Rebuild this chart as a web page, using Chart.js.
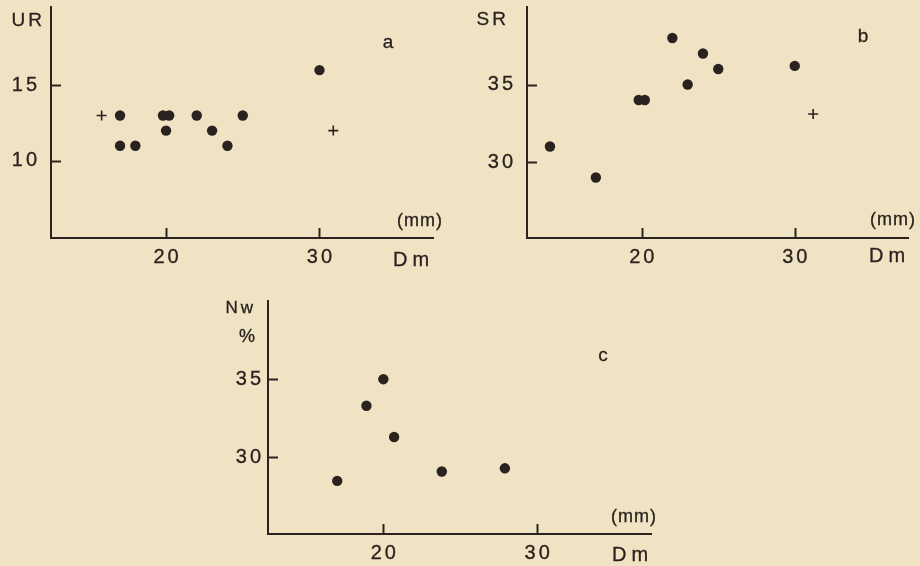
<!DOCTYPE html>
<html>
<head>
<meta charset="utf-8">
<script src="https://cdn.jsdelivr.net/npm/chart.js@4.4.1/dist/chart.umd.min.js"></script>
<style>
  html, body { margin: 0; padding: 0; background: #f0e3c4; }
  #page { position: relative; width: 920px; height: 566px; background: #f0e3c4; overflow: hidden; }
  #page canvas { position: absolute; left: 0; top: 0; }
</style>
</head>
<body>
<div id="page">
  <canvas id="chart-a" width="920" height="566"></canvas>
  <canvas id="chart-b" width="920" height="566"></canvas>
  <canvas id="chart-c" width="920" height="566"></canvas>
</div>
<script>
// Panel a: UR against mean diameter Dm
const urDotsDm  = [17, 17, 18, 19.8, 20.2, 20, 22, 23, 24, 25, 30];
const urDotsVal = [13, 11, 11, 13, 13, 12, 13, 12, 11, 13, 16];
const urCrossDm  = [15.8, 30.9];
const urCrossVal = [13, 12];

// Panel b: SR against Dm
const srDotsDm  = [14, 17, 19.8, 20.2, 22, 23, 24, 25, 30];
const srDotsVal = [31, 29, 34, 34, 38, 35, 37, 36, 36.2];
const srCrossDm  = [31.2];
const srCrossVal = [33.1];

// Panel c: Nw % against Dm
const nwDm  = [17, 18.9, 20, 20.7, 23.8, 27.9];
const nwVal = [28.5, 33.3, 35, 31.3, 29.1, 29.3];

// tick labels
const dmTicks = [20, 30];
const urTicks = [10, 15];
const srTicks = [30, 35];
const nwTicks = [30, 35];

const INK = '#2a221e';
const FONT = '"Liberation Sans", "DejaVu Sans", sans-serif';

function toPoints(xs, ys) {
    return xs.map((x, i) => ({ x: x, y: ys[i] }));
}

// fill plus a hairline stroke so the printed letters look a little heavier
function inkText(ctx, text, x, y) {
    ctx.fillText(text, x, y);
    ctx.strokeText(text, x, y);
}

// draws the inward ticks, spaced tick labels and the axis captions
const paperPlugin = {
    id: 'paper',
    afterDraw(chart, args, opts) {
        const ctx = chart.ctx;
        const xs = chart.scales.x;
        const ys = chart.scales.y;
        const area = chart.chartArea;
        ctx.save();
        ctx.strokeStyle = INK;
        ctx.fillStyle = INK;
        ctx.lineWidth = 2;

        // tick marks point into the plot
        xs.ticks.forEach(t => {
            const px = Math.round(xs.getPixelForValue(t.value)) + 0.5;
            ctx.beginPath();
            ctx.moveTo(px, area.bottom);
            ctx.lineTo(px, area.bottom - 10);
            ctx.stroke();
        });
        ys.ticks.forEach(t => {
            const py = Math.round(ys.getPixelForValue(t.value)) + 0.5;
            ctx.beginPath();
            ctx.moveTo(area.left, py);
            ctx.lineTo(area.left + 10, py);
            ctx.stroke();
        });

        ctx.lineWidth = 0.3;
        ctx.font = '20px ' + FONT;
        ctx.letterSpacing = '3px';
        ctx.textBaseline = 'middle';
        ctx.textAlign = 'center';
        xs.ticks.forEach(t => {
            inkText(ctx, String(t.value), xs.getPixelForValue(t.value) + 1.5, area.bottom + 19);
        });
        ctx.textAlign = 'right';
        ys.ticks.forEach(t => {
            inkText(ctx, String(t.value), area.left - opts.labelGap + 3, ys.getPixelForValue(t.value));
        });

        opts.notes.forEach(n => {
            ctx.font = (n.size || 19) + 'px ' + FONT;
            ctx.letterSpacing = (n.spacing === undefined ? 3 : n.spacing) + 'px';
            ctx.textAlign = n.align || 'center';
            const shift = ctx.textAlign === 'right' ? 3 : (ctx.textAlign === 'center' ? 1.5 : 0);
            inkText(ctx, n.text, n.x + shift, n.y);
        });
        ctx.restore();
    }
};

function drawPanel(id, cfg) {
    const ctx = document.getElementById(id);
    const datasets = [{
        data: toPoints(cfg.dotsX, cfg.dotsY),
        pointStyle: 'circle',
        pointRadius: 5.2,
        backgroundColor: INK,
        borderColor: INK,
        borderWidth: 0
    }];
    if (cfg.crossX) {
        datasets.push({
            data: toPoints(cfg.crossX, cfg.crossY),
            pointStyle: 'cross',
            pointRadius: 5,
            borderColor: INK,
            borderWidth: 1.6
        });
    }
    return new Chart(ctx, {
        type: 'scatter',
        data: { datasets: datasets },
        plugins: [paperPlugin],
        options: {
            responsive: false,
            animation: false,
            events: [],
            layout: { padding: cfg.padding },
            plugins: {
                legend: { display: false },
                tooltip: { enabled: false },
                paper: { notes: cfg.notes, labelGap: cfg.labelGap }
            },
            scales: {
                x: {
                    type: 'linear',
                    min: 12.5,
                    max: 37.4,
                    grid: { display: false, drawTicks: false },
                    border: { display: true, color: INK, width: 2 },
                    ticks: { display: false },
                    afterBuildTicks: s => { s.ticks = dmTicks.map(v => ({ value: v })); },
                    afterFit: s => { s.height = 30; }
                },
                y: {
                    type: 'linear',
                    min: cfg.yMin,
                    max: cfg.yMax,
                    grid: { display: false, drawTicks: false },
                    border: { display: true, color: INK, width: 2 },
                    ticks: { display: false },
                    afterBuildTicks: s => { s.ticks = cfg.yTicks.map(v => ({ value: v })); },
                    afterFit: s => { s.width = 51; }
                }
            }
        }
    });
}

drawPanel('chart-a', {
    dotsX: urDotsDm, dotsY: urDotsVal,
    crossX: urCrossDm, crossY: urCrossVal,
    yMin: 4.9, yMax: 20.2, yTicks: urTicks,
    labelGap: 14,
    padding: { left: 0, top: 6, right: 920 - 433, bottom: 566 - 238 - 30 },
    notes: [
        { text: 'UR', x: 42, y: 21, align: 'right' },
        { text: 'a', x: 388, y: 43 },
        { text: '(mm)', x: 440, y: 221, align: 'right', size: 18, spacing: 1 },
        { text: 'Dm', x: 393, y: 260, align: 'left', size: 20, spacing: 5 }
    ]
});

drawPanel('chart-b', {
    dotsX: srDotsDm, dotsY: srDotsVal,
    crossX: srCrossDm, crossY: srCrossVal,
    yMin: 25.1, yMax: 40, yTicks: srTicks,
    labelGap: 14,
    padding: { left: 527 - 51, top: 7, right: 920 - 908, bottom: 566 - 238 - 30 },
    notes: [
        { text: 'SR', x: 506, y: 20, align: 'right' },
        { text: 'b', x: 863, y: 37 },
        { text: '(mm)', x: 913, y: 220, align: 'right', size: 18, spacing: 1 },
        { text: 'Dm', x: 869, y: 256, align: 'left', size: 20, spacing: 5 }
    ]
});

drawPanel('chart-c', {
    dotsX: nwDm, dotsY: nwVal,
    yMin: 25.1, yMax: 40, yTicks: nwTicks,
    labelGap: 7,
    padding: { left: 268 - 51, top: 301, right: 920 - 651, bottom: 566 - 534 - 30 },
    notes: [
        { text: 'Nw', x: 253, y: 308, align: 'right', size: 17 },
        { text: '%', x: 252, y: 337, align: 'right', size: 18, spacing: 0 },
        { text: 'c', x: 603, y: 356 },
        { text: '(mm)', x: 654, y: 517, align: 'right', size: 18, spacing: 1 },
        { text: 'Dm', x: 612, y: 555, align: 'left', size: 20, spacing: 5 }
    ]
});
</script>
</body>
</html>
